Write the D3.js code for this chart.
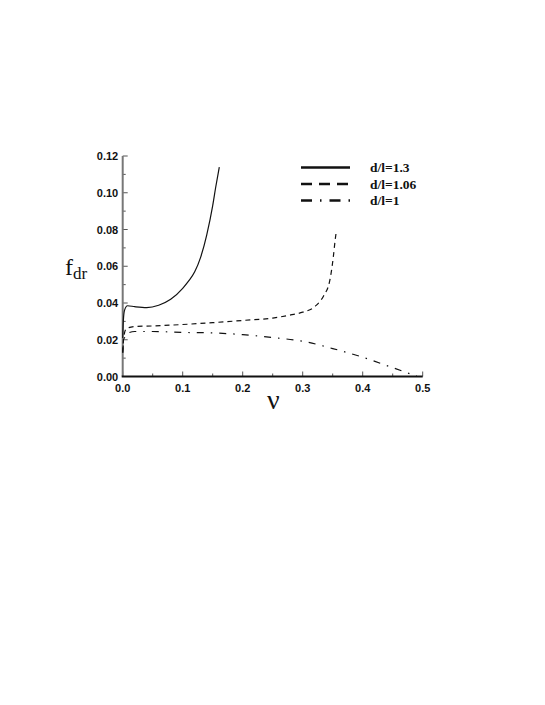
<!DOCTYPE html>
<html><head><meta charset="utf-8">
<script src="https://cdn.jsdelivr.net/npm/d3@7"></script>
<style>body{margin:0;background:#fff}</style>
</head><body>
<script>
// Data
const nu13 = [0, 0.001, 0.003, 0.008, 0.02, 0.04, 0.06, 0.08, 0.1, 0.11, 0.12, 0.13, 0.14, 0.15, 0.155, 0.161];
const f13  = [0.021, 0.030, 0.036, 0.0385, 0.038, 0.0375, 0.0388, 0.042, 0.048, 0.052, 0.057, 0.065, 0.077, 0.093, 0.103, 0.114];
const nu106 = [0, 0.002, 0.006, 0.02, 0.05, 0.1, 0.15, 0.2, 0.25, 0.28, 0.3, 0.32, 0.335, 0.345, 0.351, 0.354, 0.356];
const f106  = [0.013, 0.022, 0.026, 0.0272, 0.0275, 0.0283, 0.0293, 0.0305, 0.0318, 0.0335, 0.035, 0.038, 0.044, 0.052, 0.065, 0.074, 0.079];
const nu1 = [0, 0.002, 0.008, 0.02, 0.05, 0.1, 0.15, 0.2, 0.25, 0.3, 0.35, 0.4, 0.45, 0.49];
const f1  = [0.013, 0.020, 0.0235, 0.0245, 0.0245, 0.024, 0.0237, 0.0228, 0.0212, 0.0192, 0.0152, 0.0105, 0.0048, 0.0002];
const xTicks = [0, 0.1, 0.2, 0.3, 0.4, 0.5];
const yTicks = [0, 0.02, 0.04, 0.06, 0.08, 0.10, 0.12];
const legendLabels = ["d/l=1.3", "d/l=1.06", "d/l=1"];

const W = 545, H = 705;
const svg = d3.select("body").append("svg").attr("width", W).attr("height", H);
const x = d3.scaleLinear().domain([0, 0.5]).range([122.7, 422.7]);
const y = d3.scaleLinear().domain([0, 0.12]).range([376.5, 156]);

// axes
const xMinor = d3.range(0.05, 0.5, 0.1);
const yMinor = d3.range(0.01, 0.12, 0.02);
const g = svg.append("g");
g.selectAll(".xmin").data(xMinor).join("line")
  .attr("x1", d => x(d)).attr("x2", d => x(d)).attr("y1", y(0)).attr("y2", y(0) - 3)
  .attr("stroke", "#555").attr("stroke-width", 1);
g.selectAll(".xmaj").data(xTicks).join("line")
  .attr("x1", d => x(d)).attr("x2", d => x(d)).attr("y1", y(0)).attr("y2", y(0) - 5)
  .attr("stroke", "#555").attr("stroke-width", 1);
g.selectAll(".ymin").data(yMinor).join("line")
  .attr("x1", x(0)).attr("x2", x(0) + 3).attr("y1", d => y(d)).attr("y2", d => y(d))
  .attr("stroke", "#555").attr("stroke-width", 1);
g.selectAll(".ymaj").data(yTicks).join("line")
  .attr("x1", x(0)).attr("x2", x(0) + 5).attr("y1", d => y(d)).attr("y2", d => y(d))
  .attr("stroke", "#555").attr("stroke-width", 1);
g.append("line").attr("x1", x(0)).attr("x2", x(0)).attr("y1", y(0)).attr("y2", y(0.12))
  .attr("stroke", "#777").attr("stroke-width", 2);
g.append("line").attr("x1", x(0) - 1).attr("x2", x(0.5)).attr("y1", y(0)).attr("y2", y(0))
  .attr("stroke", "#111").attr("stroke-width", 2);

g.selectAll(".xl").data(xTicks).join("text")
  .attr("x", d => x(d)).attr("y", y(0) + 15).attr("text-anchor", "middle")
  .attr("font-family", "Liberation Sans, Arial, sans-serif").attr("font-weight", "bold")
  .attr("font-size", 11).attr("fill", "#111").text(d3.format(".1f"));
g.selectAll(".yl").data(yTicks).join("text")
  .attr("x", x(0) - 4.5).attr("y", d => y(d) + 4).attr("text-anchor", "end")
  .attr("font-family", "Liberation Sans, Arial, sans-serif").attr("font-weight", "bold")
  .attr("font-size", 11).attr("fill", "#111").text(d3.format(".2f"));

// axis titles
const fy = svg.append("text").attr("x", 65).attr("y", 275)
  .attr("font-family", "Liberation Serif, Times New Roman, serif").attr("font-size", 24).attr("fill", "#111");
fy.append("tspan").text("f");
fy.append("tspan").attr("dy", 4).attr("font-size", 17).text("dr");
svg.append("text").attr("x", 267).attr("y", 409)
  .attr("font-family", "Liberation Serif, Times New Roman, serif").attr("font-size", 28).attr("fill", "#111").text("ν");

// curves
const series = [
  {nu: nu13, f: f13, dash: null},
  {nu: nu106, f: f106, dash: "5,4"},
  {nu: nu1, f: f1, dash: "7,7,1.5,7"}
];
const line = d3.line().x(d => x(d[0])).y(d => y(d[1])).curve(d3.curveMonotoneX);
series.forEach(s => {
  svg.append("path").datum(s.nu.map((v, i) => [v, s.f[i]]))
    .attr("d", line).attr("fill", "none").attr("stroke", "#111").attr("stroke-width", 1.2)
    .attr("stroke-dasharray", s.dash);
});

// legend
const legDash = [null, "11,7", "11,8,1.5,8"];
legendLabels.forEach((lab, i) => {
  const ly = 167.5 + i * 16.5;
  svg.append("line").attr("x1", 301).attr("x2", 350).attr("y1", ly).attr("y2", ly)
    .attr("stroke", "#111").attr("stroke-width", 2.5).attr("stroke-dasharray", legDash[i]);
  svg.append("text").attr("x", 370).attr("y", ly + 4.5)
    .attr("font-family", "Liberation Serif, Times New Roman, serif").attr("font-weight", "bold")
    .attr("font-size", 13.5).attr("fill", "#111").text(lab);
});
</script>
</body></html>
